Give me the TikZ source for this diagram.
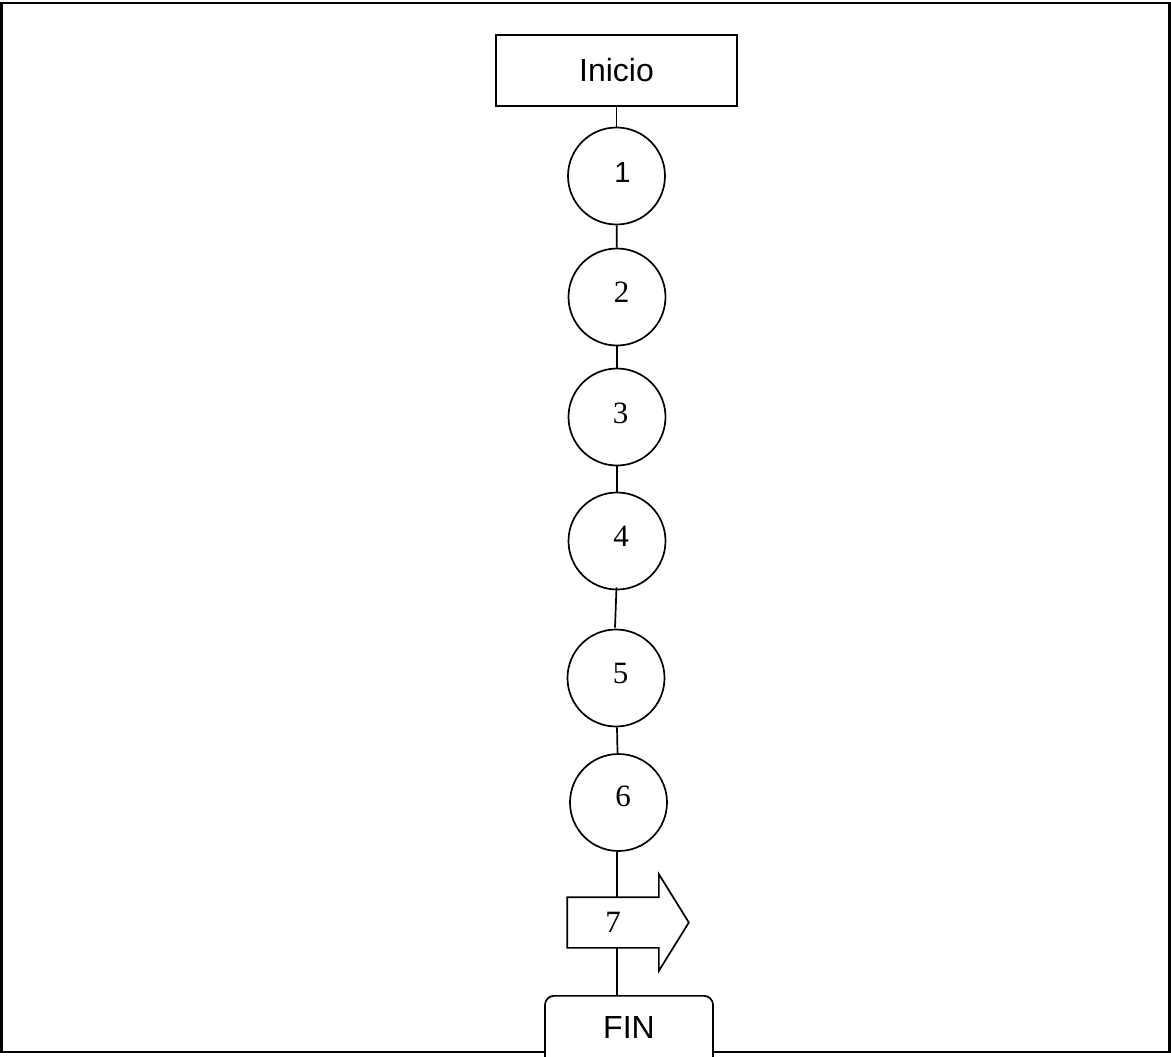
\documentclass[tikz,border=0pt]{standalone}
\usepackage{fontspec}
\setmainfont{Liberation Serif}
\newfontfamily\arialfont{Liberation Sans}
\usetikzlibrary{calc}
\begin{document}
\begin{tikzpicture}[x=1pt,y=-1pt,line width=1.7pt,
  stepcirc/.style={draw,circle,minimum size=97pt,inner sep=0pt},
  serifnum/.style={font=\fontsize{31}{31}\selectfont},
  sansbig/.style={font=\arialfont\fontsize{32}{32}\selectfont}]
\clip (0,0) rectangle (1171,1057);
\useasboundingbox (0,0) rectangle (1171,1057);
\draw[line width=2.2pt] (1.5,3) rectangle (1169.5,1052);
\node[draw,fill=white,minimum width=241pt,minimum height=71pt,inner sep=0pt,sansbig] (ini) at (616.5,70.5) {Inicio};
\node[stepcirc,label={[font=\arialfont\fontsize{29}{29}\selectfont,xshift=6pt,yshift=3.5pt]center:1}] (c1) at (616.5,176) {};
\node[stepcirc,label={[serifnum,xshift=4.5pt,yshift=5pt]center:2}] (c2) at (617,297) {};
\node[stepcirc,label={[serifnum,xshift=3.5pt,yshift=4pt]center:3}] (c3) at (617,417) {};
\node[stepcirc,label={[serifnum,xshift=4pt,yshift=5pt]center:4}] (c4) at (617,541) {};
\node[stepcirc,label={[serifnum,xshift=4.5pt,yshift=5pt]center:5}] (c5) at (616,678) {};
\node[stepcirc,label={[serifnum,xshift=4.5pt,yshift=6pt]center:6}] (c6) at (618.5,802.5) {};
\node[minimum width=90pt,minimum height=49pt,inner sep=0pt,serifnum] (a7) at (613,922.5) {7};
\draw (a7.south west) -- (a7.north west) -- (a7.north east) -- ++(0,-23)
  -- ($(a7.east)+(30,0)$) -- ($(a7.south east)+(0,23)$) -- (a7.south east) -- cycle;
\node[draw,fill=white,rounded corners=9pt,minimum width=168pt,inner sep=0pt,
  text height=43pt,text depth=62pt,anchor=north,sansbig] (fin) at (629,995) {FIN};
\draw (ini.south -| c1) -- (c1);
\draw (c1) -- (c2);
\draw (c2) -- (c3);
\draw (c3) -- (c4);
\draw ($(c4.south)+(-0.5,-3)$) -- ($(c5.north)+(-1,-1)$);
\draw (c5) -- (c6);
\draw (c6.south -| 617,0) -- (a7.north -| 617,0);
\draw (a7.south -| 617,0) -- (fin.north -| 617,0);
\end{tikzpicture}
\end{document}
